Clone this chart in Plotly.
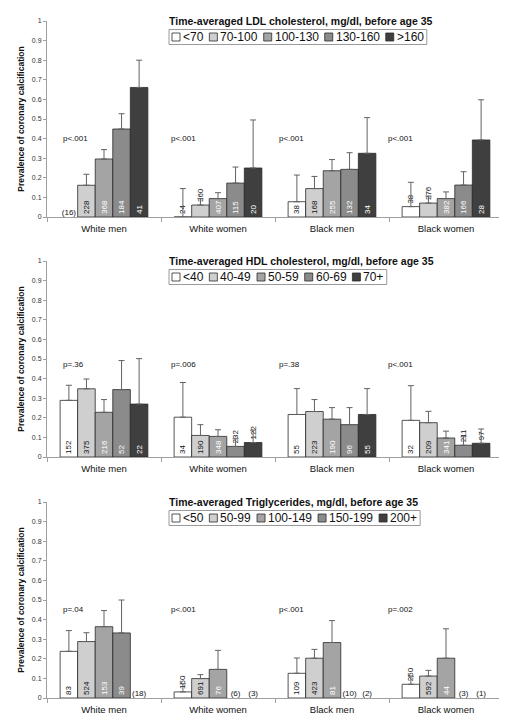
import plotly.graph_objects as go
from plotly.subplots import make_subplots

# ---------------- data ----------------
groups = ["White men", "White women", "Black men", "Black women"]

ldl_title = "Time-averaged LDL cholesterol, mg/dl, before age 35"
ldl_bins = ["<70", "70-100", "100-130", "130-160", ">160"]
ldl_prev = [[None, 0.0, 0.078, 0.053],
            [0.162, 0.061, 0.145, 0.071],
            [0.296, 0.094, 0.236, 0.094],
            [0.449, 0.173, 0.243, 0.163],
            [0.661, 0.250, 0.325, 0.393]]
ldl_upper = [[None, 0.145, 0.214, 0.177],
             [0.218, 0.094, 0.207, 0.107],
             [0.344, 0.124, 0.293, 0.128],
             [0.527, 0.255, 0.328, 0.231],
             [0.800, 0.495, 0.507, 0.598]]
ldl_n = [[16, 24, 38, 38],
         [228, 360, 168, 276],
         [368, 407, 255, 382],
         [184, 115, 132, 166],
         [41, 20, 34, 28]]
ldl_p = ["p<.001", "p<.001", "p<.001", "p<.001"]

hdl_title = "Time-averaged HDL cholesterol, mg/dl, before age 35"
hdl_bins = ["<40", "40-49", "50-59", "60-69", "70+"]
hdl_prev = [[0.289, 0.203, 0.217, 0.187],
            [0.348, 0.110, 0.232, 0.175],
            [0.228, 0.105, 0.193, 0.097],
            [0.344, 0.054, 0.165, 0.060],
            [0.270, 0.074, 0.217, 0.070]]
hdl_upper = [[0.366, 0.380, 0.349, 0.364],
             [0.398, 0.165, 0.293, 0.233],
             [0.293, 0.139, 0.252, 0.132],
             [0.492, 0.093, 0.252, 0.103],
             [0.502, 0.137, 0.349, 0.143]]
hdl_n = [[152, 34, 55, 32],
         [375, 190, 223, 209],
         [216, 348, 190, 341],
         [52, 232, 96, 211],
         [22, 122, 55, 97]]
hdl_p = ["p=.36", "p=.006", "p=.38", "p<.001"]

tg_title = "Time-averaged Triglycerides, mg/dl, before age 35"
tg_bins = ["<50", "50-99", "100-149", "150-199", "200+"]
tg_prev = [[0.238, 0.031, 0.126, 0.070],
           [0.288, 0.099, 0.203, 0.112],
           [0.364, 0.146, 0.283, 0.203],
           [0.332, None, None, None],
           [None, None, None, None]]
tg_upper = [[0.344, 0.072, 0.204, 0.111],
            [0.333, 0.119, 0.248, 0.141],
            [0.446, 0.243, 0.395, 0.353],
            [0.500, None, None, None],
            [None, None, None, None]]
tg_n = [[83, 150, 109, 250],
        [524, 691, 423, 592],
        [153, 76, 81, 44],
        [39, 6, 10, 3],
        [18, 3, 2, 1]]
tg_p = ["p=.04", "p<.001", "p<.001", "p=.002"]

panels = [
    (ldl_title, ldl_bins, ldl_prev, ldl_upper, ldl_n, ldl_p, 0.40),
    (hdl_title, hdl_bins, hdl_prev, hdl_upper, hdl_n, hdl_p, 0.47),
    (tg_title, tg_bins, tg_prev, tg_upper, tg_n, tg_p, 0.45),
]

# ---------------- style ----------------
FONT = "Liberation Sans, Arial, sans-serif"
fills = ["#ffffff", "#cfcfcf", "#a4a4a4", "#8b8b8b", "#3f3f3f"]
inside_txt = ["#111111", "#111111", "#ffffff", "#ffffff", "#ffffff"]
outline = "#2a2a2a"
err_col = "#626262"
axis_col = "#a0a0a0"
BARGAP = 0.23
W_BAR = (1 - BARGAP) / 5

W, H = 507, 720
ML, MR, MT, MB = 39, 12, 13, 30
PW = W - ML - MR
PH = H - MT - MB
panel_top = [13, 253, 494]
panel_h = 196


def px_x(px):
    return (px - ML) / PW


def px_y(py):
    return (H - MB - py) / PH


char_w = {"-": 0.333, "<": 0.584, ">": 0.584, "+": 0.584}


def text_w(s, size):
    return sum(char_w.get(c, 0.556) for c in s) * size


fig = make_subplots(rows=3, cols=1)

annotations = []
shapes = []

for r, (title, bins, prev, upper, nn, pvals, p_y) in enumerate(panels):
    row = r + 1
    xa = "x" if r == 0 else f"x{row}"
    ya = "y" if r == 0 else f"y{row}"
    for k, b in enumerate(bins):
        ys, errs, texts, tpos = [], [], [], []
        for i in range(len(groups)):
            v = prev[k][i]
            u = upper[k][i]
            if v is None:
                ys.append(None)
                errs.append(None)
                texts.append("")
                tpos.append("none")
            else:
                ys.append(v)
                errs.append(None if u is None else u - v)
                texts.append(str(nn[k][i]))
                tpos.append("inside" if v >= 0.077 else "outside")
        fig.add_trace(go.Bar(
            x=list(range(len(groups))), y=ys, name=b,
            marker=dict(color=fills[k], line=dict(color=outline, width=0.8)),
            error_y=dict(type="data", array=errs, symmetric=False,
                         arrayminus=[0] * len(groups), color=err_col,
                         thickness=1, width=3),
            text=texts, textposition=tpos, textangle=-90,
            insidetextanchor="start", constraintext="none",
            textfont=dict(size=8, color=inside_txt[k], family=FONT),
            insidetextfont=dict(size=8, color=inside_txt[k], family=FONT),
            outsidetextfont=dict(size=8, color="#111111", family=FONT),
            cliponaxis=False, showlegend=False, hoverinfo="skip",
        ), row=row, col=1)
        # groups with no estimate: count in parentheses at zero
        zx, zt = [], []
        for i in range(len(groups)):
            if prev[k][i] is None:
                zx.append(i + (k - 2) * W_BAR)
                zt.append(f"({nn[k][i]})")
        if zx:
            fig.add_trace(go.Scatter(
                x=zx, y=[0] * len(zx), mode="text", text=zt,
                textposition="top center",
                textfont=dict(size=8, color="#111111", family=FONT),
                cliponaxis=False, showlegend=False, hoverinfo="skip",
            ), row=row, col=1)

    # p values
    for i, p in enumerate(pvals):
        annotations.append(dict(
            x=i - 0.38 - 0.05 * i, y=p_y, xref=xa, yref=ya, text=p,
            showarrow=False, xanchor="left", yanchor="middle",
            font=dict(size=8, color="#111111", family=FONT)))

    top = panel_top[r]
    # panel title
    annotations.append(dict(
        x=px_x(159), y=px_y(top), xref="paper", yref="paper",
        text=f"<b>{title}</b>", showarrow=False, xanchor="left",
        yanchor="middle", font=dict(size=10.5, color="#111111", family=FONT)))
    # legend (drawn)
    lx = 164
    cy = top + 16
    for k, b in enumerate(bins):
        shapes.append(dict(type="rect", xref="paper", yref="paper",
                           x0=px_x(lx), x1=px_x(lx + 8),
                           y0=px_y(cy + 4), y1=px_y(cy - 4),
                           fillcolor=fills[k], line=dict(color=outline, width=0.8)))
        tx = lx + 9
        annotations.append(dict(
            x=px_x(tx), y=px_y(cy), xref="paper", yref="paper", text=b,
            showarrow=False, xanchor="left", yanchor="middle",
            font=dict(size=12, color="#111111", family=FONT)))
        lx = tx + text_w(b, 12) + 8
    shapes.append(dict(type="rect", xref="paper", yref="paper",
                       x0=px_x(161), x1=px_x(lx - 3),
                       y0=px_y(top + 23.5), y1=px_y(top + 8.5),
                       fillcolor="rgba(0,0,0,0)", line=dict(color="#9a9a9a", width=1)))

    # axes
    fig.update_yaxes(
        row=row, col=1, range=[0, 1], tick0=0, dtick=0.1,
        domain=[px_y(top + panel_h), px_y(top)],
        showline=True, linecolor=axis_col, linewidth=1,
        ticks="outside", ticklen=3, tickcolor=axis_col,
        tickfont=dict(size=7, color="#333333", family=FONT),
        showgrid=False, zeroline=False, automargin=False,
        title=dict(text="<b>Prevalence of coronary calcification</b>",
                   font=dict(size=8.5, color="#111111", family=FONT), standoff=5),
    )
    fig.update_xaxes(
        row=row, col=1, range=[-0.5, len(groups) - 0.5],
        tickmode="array", tickvals=list(range(len(groups))), ticktext=groups,
        ticks="", showline=True, linecolor=axis_col, linewidth=1,
        tickfont=dict(size=9.5, color="#111111", family=FONT),
        ticklabelstandoff=3,
        minor=dict(tickmode="array",
                   tickvals=[i - 0.5 for i in range(len(groups) + 1)],
                   ticks="outside", ticklen=4, tickcolor=axis_col),
        showgrid=False, zeroline=False, automargin=False,
    )

fig.update_layout(
    width=W, height=H, barmode="group", bargap=BARGAP, bargroupgap=0,
    margin=dict(l=ML, r=MR, t=MT, b=MB),
    paper_bgcolor="white", plot_bgcolor="white",
    font=dict(family=FONT, color="#111111"),
    showlegend=False, annotations=annotations, shapes=shapes,
)

fig.write_html("out.html")
